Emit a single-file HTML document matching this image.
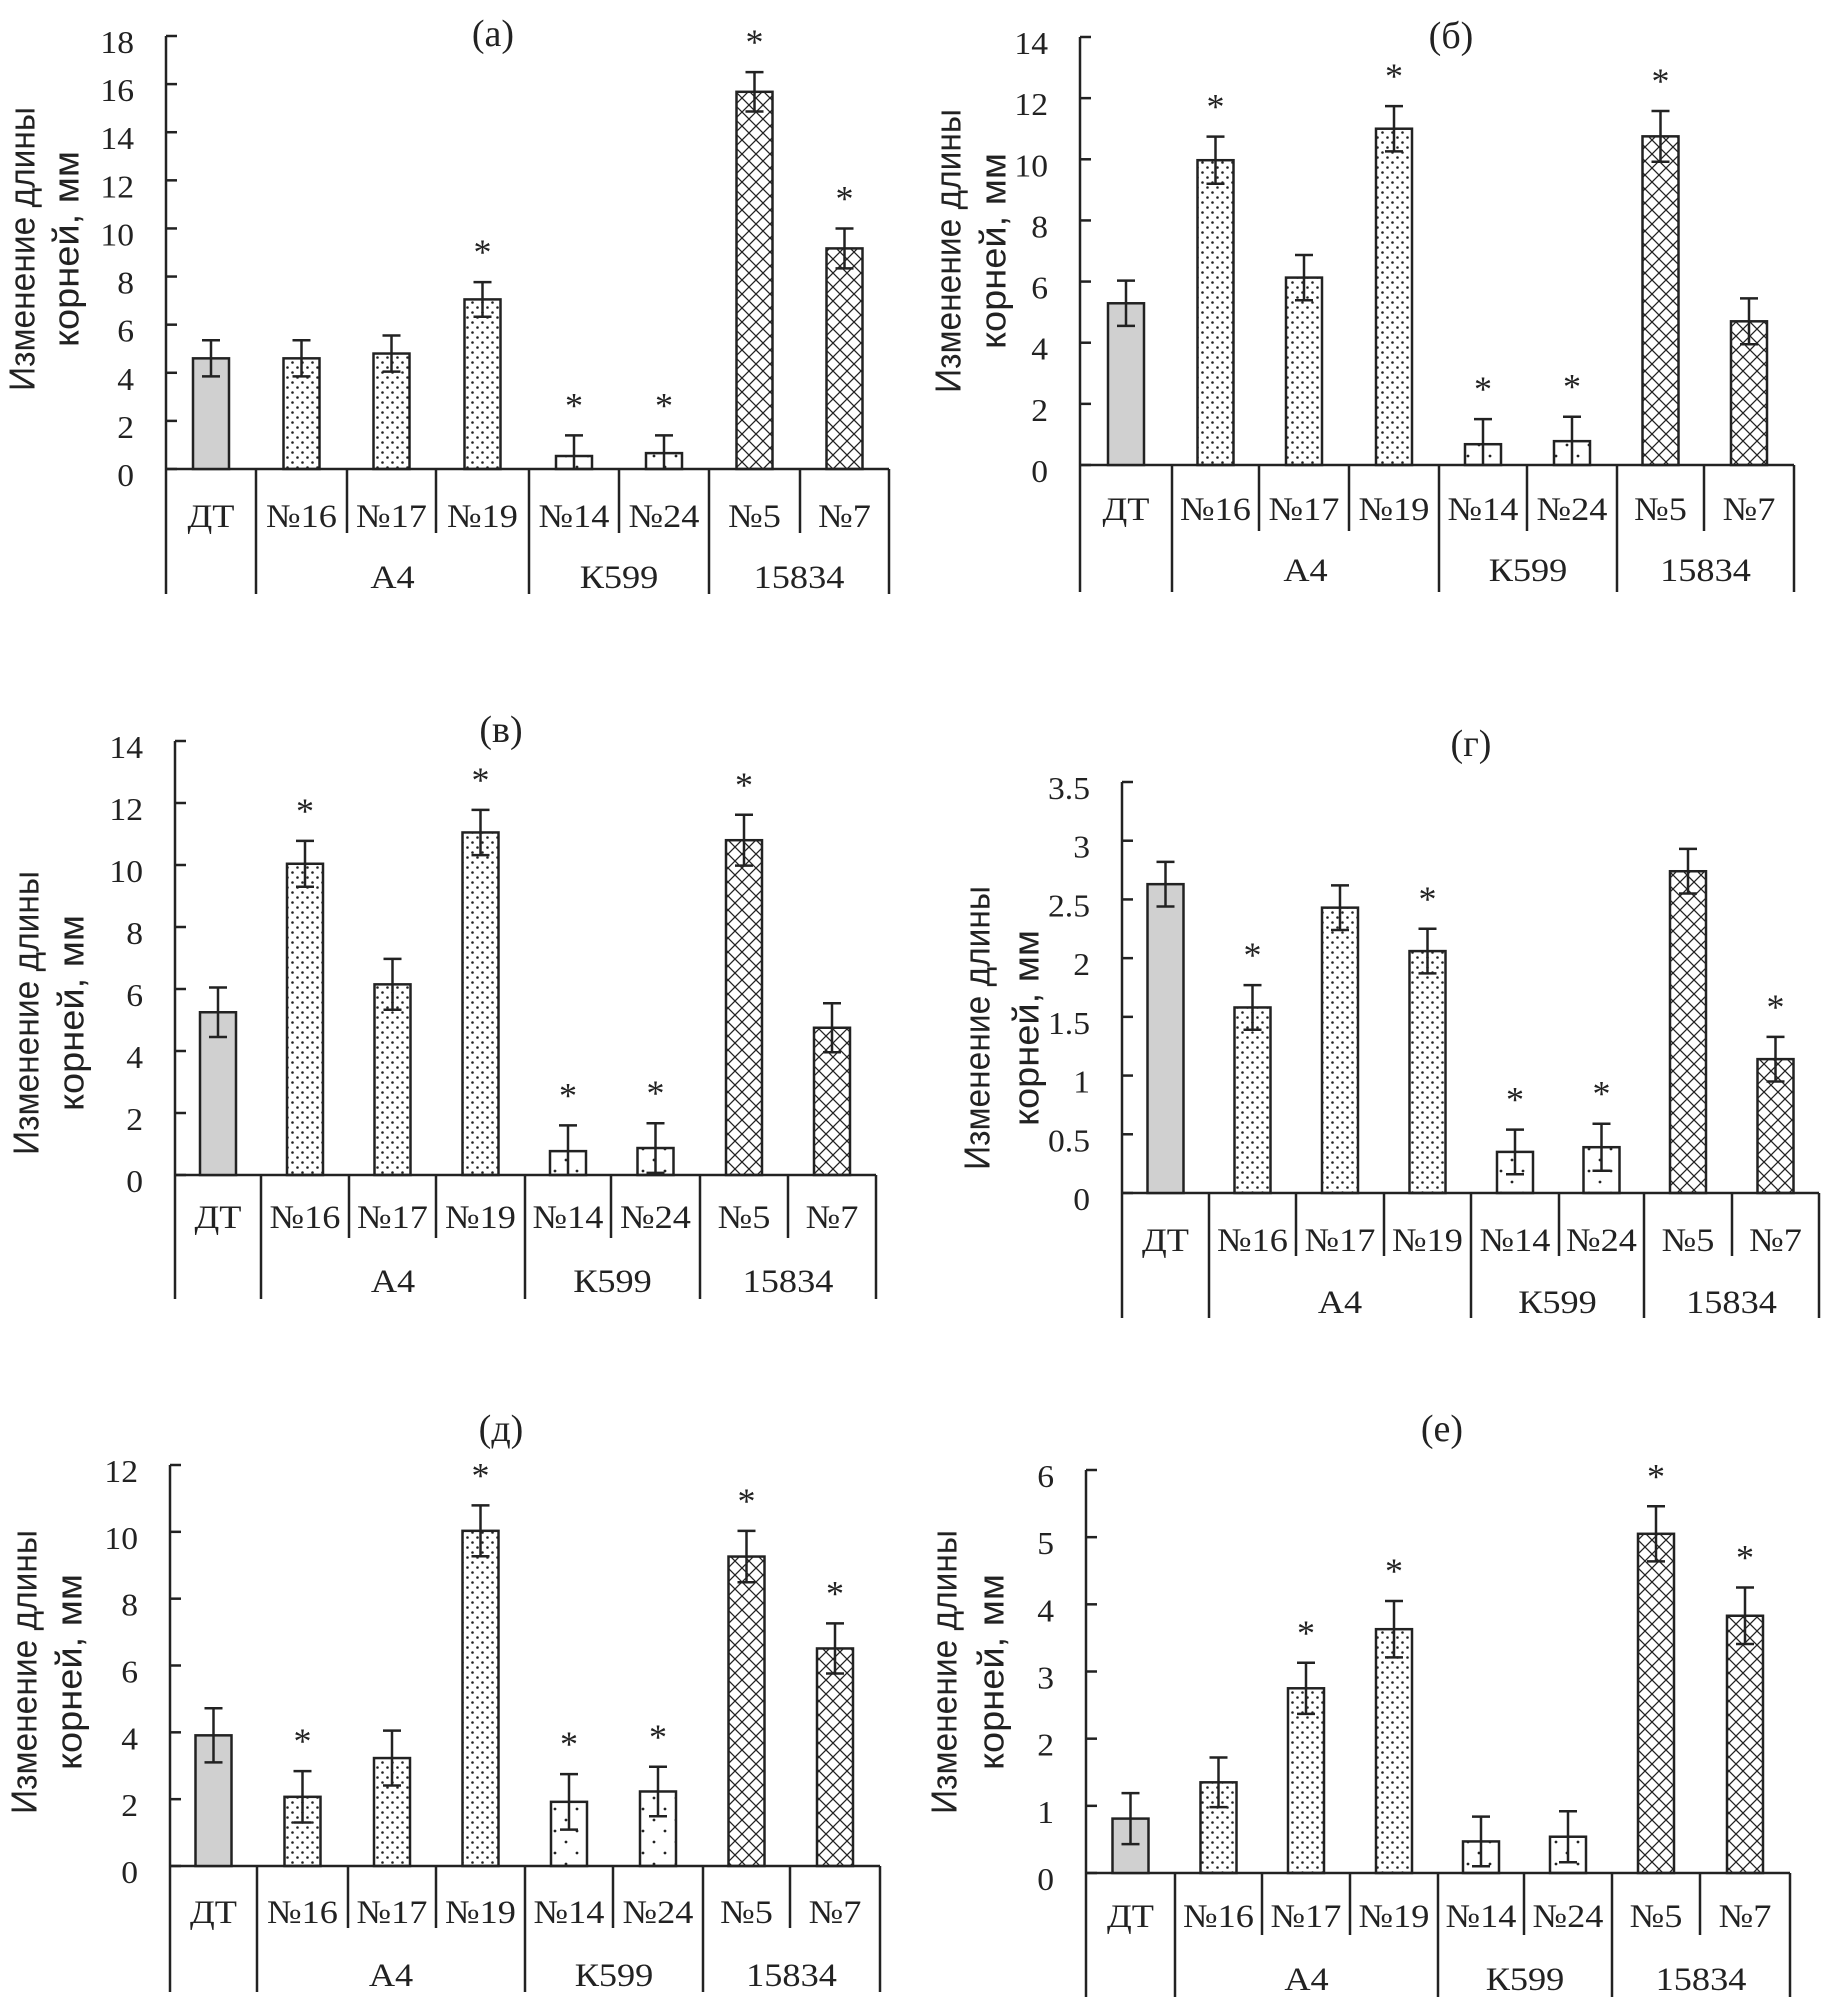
<!DOCTYPE html>
<html><head><meta charset="utf-8">
<style>
html,body{margin:0;padding:0;background:#fff;}
svg{display:block;}
text{font-family:"Liberation Serif","DejaVu Serif",serif;fill:#222;}
.yt{font-family:"Liberation Sans","DejaVu Sans",sans-serif;}
</style></head>
<body>
<svg id="fig" xmlns="http://www.w3.org/2000/svg" width="1839" height="2016" viewBox="0 0 1839 2016">
<defs>
<pattern id="dense" width="10" height="10" patternUnits="userSpaceOnUse">
<circle cx="2.5" cy="2.5" r="1.3" fill="#222"/><circle cx="7.5" cy="7.5" r="1.3" fill="#222"/>
</pattern>
<pattern id="sparse" width="22" height="22" patternUnits="userSpaceOnUse">
<circle cx="5" cy="5" r="1.4" fill="#222"/><circle cx="16" cy="16" r="1.4" fill="#222"/>
</pattern>
<pattern id="cross" width="14" height="14" patternUnits="userSpaceOnUse">
<path d="M0,0 L14,14 M14,0 L0,14" stroke="#222" stroke-width="1.3" fill="none"/>
</pattern>
</defs>
</svg>
<script>
const categories = ['ДТ','№16','№17','№19','№14','№24','№5','№7'];
const groups = ['А4','К599','15834'];
const fills = ['#d0d0d0','url(#dense)','url(#dense)','url(#dense)','url(#sparse)','url(#sparse)','url(#cross)','url(#cross)'];

const valuesA = [4.6, 4.6, 4.8, 7.05, 0.54, 0.66, 15.68, 9.17];
const errorsA = [0.75, 0.75, 0.75, 0.72, 0.86, 0.74, 0.82, 0.83];
const starsA = [0,0,0,1,1,1,1,1];
const ticksA = ['0','2','4','6','8','10','12','14','16','18'];

const valuesB = [5.29, 9.97, 6.13, 11.0, 0.68, 0.78, 10.75, 4.7];
const errorsB = [0.74, 0.77, 0.74, 0.74, 0.82, 0.8, 0.83, 0.75];
const starsB = [0,1,0,1,1,1,1,0];
const ticksB = ['0','2','4','6','8','10','12','14'];

const valuesC = [5.25, 10.04, 6.15, 11.05, 0.77, 0.87, 10.8, 4.75];
const errorsC = [0.8, 0.74, 0.82, 0.73, 0.83, 0.8, 0.82, 0.79];
const starsC = [0,1,0,1,1,1,1,0];
const ticksC = ['0','2','4','6','8','10','12','14'];

const valuesD = [2.63, 1.58, 2.43, 2.06, 0.35, 0.39, 2.74, 1.14];
const errorsD = [0.19, 0.19, 0.19, 0.19, 0.19, 0.2, 0.19, 0.19];
const starsD = [0,1,0,1,1,1,0,1];
const ticksD = ['0','0.5','1','1.5','2','2.5','3','3.5'];

const valuesE = [3.91, 2.07, 3.23, 10.03, 1.92, 2.23, 9.26, 6.51];
const errorsE = [0.81, 0.77, 0.82, 0.76, 0.83, 0.74, 0.77, 0.75];
const starsE = [0,1,0,1,1,1,1,1];
const ticksE = ['0','2','4','6','8','10','12'];

const valuesF = [0.81, 1.35, 2.75, 3.63, 0.47, 0.54, 5.05, 3.83];
const errorsF = [0.38, 0.37, 0.38, 0.42, 0.37, 0.38, 0.41, 0.42];
const starsF = [0,0,1,1,0,0,1,1];
const ticksF = ['0','1','2','3','4','5','6'];

const panels = [
 {id:'a', title:'(а)', tx:493, tb:46, ax:166, right:889, seps:[256,347,436,529,619,709,800], y0:469, yTop:36,
  vals:valuesA, errs:errorsA, stars:starsA, ticks:ticksA, subB:527, subBot:533, grpB:588, bot:594, l1:22, l2:66, lc:249},
 {id:'b', title:'(б)', tx:1451, tb:48, ax:1080, right:1794, seps:[1172,1259,1349,1439,1527,1617,1704], y0:465, yTop:37,
  vals:valuesB, errs:errorsB, stars:starsB, ticks:ticksB, subB:520, subBot:531, grpB:581, bot:592, l1:948, l2:993, lc:251},
 {id:'c', title:'(в)', tx:501, tb:742, ax:175, right:876, seps:[261,349,436,525,611,700,788], y0:1175, yTop:741,
  vals:valuesC, errs:errorsC, stars:starsC, ticks:ticksC, subB:1228, subBot:1238, grpB:1292, bot:1299, l1:26, l2:71, lc:1013},
 {id:'d', title:'(г)', tx:1471, tb:756, ax:1122, right:1819, seps:[1209,1296,1384,1471,1559,1644,1732], y0:1193, yTop:782,
  vals:valuesD, errs:errorsD, stars:starsD, ticks:ticksD, subB:1251, subBot:1256, grpB:1313, bot:1318, l1:977, l2:1026, lc:1028},
 {id:'e', title:'(д)', tx:501, tb:1441, ax:170, right:880, seps:[257,348,436,525,613,703,790], y0:1866, yTop:1465,
  vals:valuesE, errs:errorsE, stars:starsE, ticks:ticksE, subB:1923, subBot:1928, grpB:1986, bot:1992, l1:24, l2:69, lc:1672},
 {id:'f', title:'(е)', tx:1442, tb:1441, ax:1086, right:1790, seps:[1175,1262,1350,1438,1524,1612,1700], y0:1873, yTop:1470,
  vals:valuesF, errs:errorsF, stars:starsF, ticks:ticksF, subB:1927, subBot:1935, grpB:1990, bot:1997, l1:944, l2:991, lc:1672}
];

const NS = 'http://www.w3.org/2000/svg';
const svg = document.getElementById('fig');
function mk(tag, attrs, parent){
  const e = document.createElementNS(NS, tag);
  for (const k in attrs) e.setAttribute(k, attrs[k]);
  (parent||svg).appendChild(e);
  return e;
}
function line(g,x1,y1,x2,y2,w){ return mk('line',{x1:x1,y1:y1,x2:x2,y2:y2,stroke:'#222','stroke-width':w||2.5},g); }
function wtext(g, x, y, size, sx, anchor){
  return mk('text',{x:0, y:0, 'text-anchor':anchor||'middle','font-size':size,
    transform:'translate(' + x + ',' + y + ') scale(' + sx + ',1)'}, g);
}

panels.forEach(p => {
  const g = mk('g',{});
  
  
  const maxV = parseFloat(p.ticks[p.ticks.length-1]);
  const yS = v => p.y0 - (v / maxV) * (p.y0 - p.yTop);
  const edges = [p.ax].concat(p.seps).concat([p.right]);
  const xC = i => (edges[i] + edges[i+1]) / 2;

  const t = wtext(g, p.tx, p.tb, 38, 1.0);
  t.textContent = p.title;
  
  

  const yt = mk('g',{}, g);
  
  
  [['Изменение длины', p.l1, 284], ['корней, мм', p.l2, 196]].forEach(a => {
    const tt = mk('text',{class:'yt', x:0, y:0, 'text-anchor':'middle','dominant-baseline':'central','font-size':36,
      textLength:a[2], lengthAdjust:'spacingAndGlyphs',
      transform:'translate(' + a[1] + ',' + p.lc + ') rotate(-90)'}, yt);
    tt.textContent = a[0];
  });

  const axis = line(g, p.ax, p.yTop, p.ax, p.bot);
  
  
  p.ticks.forEach(tl => {
    const y = yS(parseFloat(tl));
    line(g, p.ax, y, p.ax + 11, y);
    const tx = wtext(g, p.ax - 32, y + 17, 32, 1.05, 'end');
    tx.textContent = tl;
    
    
  });
  const base = line(g, p.ax, p.y0, p.right, p.y0);
  
  

  const fullIdx = [1,4,6,8];
  for (let i = 1; i <= 8; i++) {
    const full = fullIdx.indexOf(i) >= 0;
    line(g, edges[i], p.y0, edges[i], full ? p.bot : p.subBot);
  }

  p.vals.forEach((v, i) => {
    const cx = xC(i), w = 36;
    const top = yS(v);
    const r = mk('rect',{x:cx - w/2, y:top, width:w, height:p.y0 - top, fill:fills[i], stroke:'#222','stroke-width':2.5}, g);
    
    
    const hi = v + p.errs[i], lo = v - p.errs[i];
    const yh = yS(hi), yl = yS(Math.max(lo, 0));
    const eb = mk('g',{}, g);
    
    
    line(eb, cx, yh, cx, yl, 2.5);
    line(eb, cx - 9, yh, cx + 9, yh, 2.5);
    if (lo >= 0) line(eb, cx - 9, yl, cx + 9, yl, 2.5);
    if (p.stars[i]) {
      const s = mk('text',{x:cx, y:yh - 18, 'text-anchor':'middle','font-size':36}, g);
      s.textContent = '*';
      
      
    }
    const cl = wtext(g, cx, p.subB, 33, 1.1);
    cl.textContent = categories[i];
    
    
  });

  const spans = [[1,4],[4,6],[6,8]];
  groups.forEach((gname, k) => {
    const x = (edges[spans[k][0]] + edges[spans[k][1]]) / 2;
    const gl = wtext(g, x, p.grpB, 33, 1.1);
    gl.textContent = gname;
    
    
  });
});
</script>
</body></html>
